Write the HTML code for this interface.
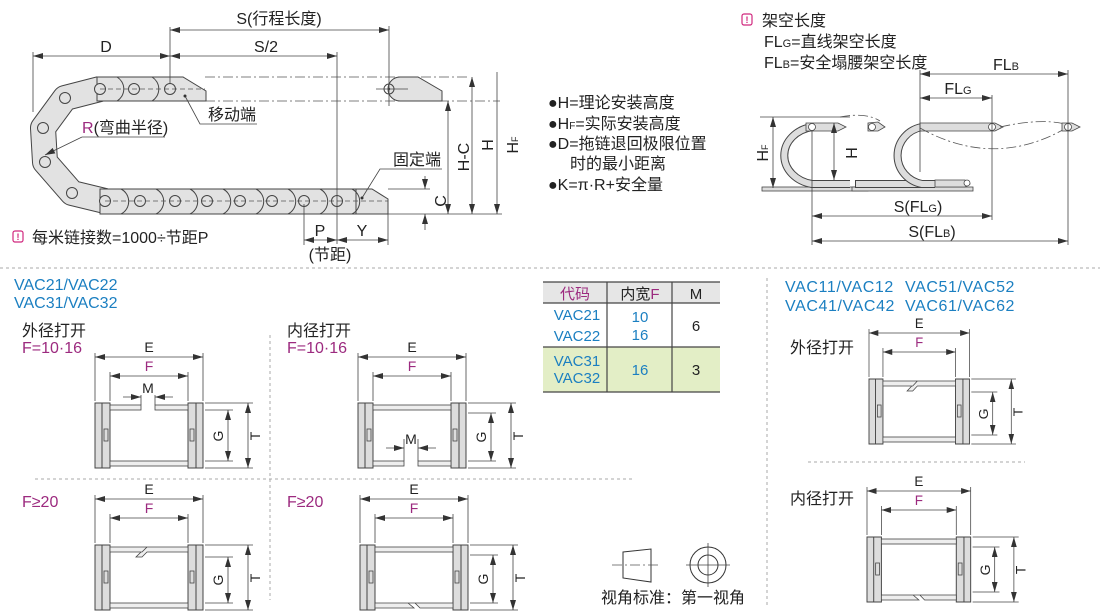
<!DOCTYPE html>
<html><head><meta charset="utf-8">
<style>
html,body{margin:0;padding:0;background:#fff;}
svg{display:block;font-family:"Liberation Sans","Noto Sans CJK SC",sans-serif;}
.t{font-size:16px;fill:#222;}
.b{font-size:16px;fill:#1b7fc1;}
.m{fill:#9c2a7f;}
.ln{stroke:#444;stroke-width:1;fill:none;}
.dim{stroke:#444;stroke-width:0.8;fill:none;}
.dd{stroke:#555;stroke-width:0.8;fill:none;stroke-dasharray:10 3 2 3;}
.sep{stroke:#aaa;stroke-width:1;fill:none;stroke-dasharray:3 3;}
</style></head><body>
<svg width="1110" height="613" viewBox="0 0 1110 613" xmlns="http://www.w3.org/2000/svg">
<defs>
<marker id="a" viewBox="0 0 10 6" refX="10" refY="3" markerWidth="10" markerHeight="6" orient="auto-start-reverse" markerUnits="userSpaceOnUse"><path d="M0,0 L10,3 L0,6 z" fill="#333"/></marker>
<g id="frame">
 <rect x="0" y="0" width="15" height="65" fill="#ddd" stroke="#444"/>
 <line x1="7" y1="0" x2="7" y2="65" stroke="#444"/>
 <rect x="93" y="0" width="15" height="65" fill="#ddd" stroke="#444"/>
 <line x1="101" y1="0" x2="101" y2="65" stroke="#444"/>
 <rect x="9" y="26" width="4" height="12" fill="#ddd" stroke="#444" stroke-width="0.8"/>
 <rect x="95" y="26" width="4" height="12" fill="#ddd" stroke="#444" stroke-width="0.8"/>
 <line x1="0" y1="-50" x2="0" y2="-2" class="dim"/><line x1="108" y1="-50" x2="108" y2="-2" class="dim"/>
 <line x1="15" y1="-31" x2="15" y2="-2" class="dim"/><line x1="93" y1="-31" x2="93" y2="-2" class="dim"/>
 <line x1="0" y1="-46" x2="108" y2="-46" class="dim" marker-start="url(#a)" marker-end="url(#a)"/>
 <line x1="15" y1="-27" x2="93" y2="-27" class="dim" marker-start="url(#a)" marker-end="url(#a)"/>
 <line x1="110" y1="0" x2="158" y2="0" class="dim"/><line x1="110" y1="65" x2="158" y2="65" class="dim"/>
 <line x1="153" y1="0" x2="153" y2="65" class="dim" marker-start="url(#a)" marker-end="url(#a)"/>
 <text x="54" y="-51" text-anchor="middle" class="t" style="font-size:14px">E</text>
 <text x="54" y="-32" text-anchor="middle" class="t m" style="font-size:14px">F</text>
 <text transform="translate(165,33) rotate(-90)" text-anchor="middle" class="t" style="font-size:14px">T</text>
</g>
<g id="barT"><rect x="15" y="2" width="78" height="5" fill="#eee" stroke="#444" stroke-width="0.8"/></g>
<g id="barB"><rect x="15" y="58" width="78" height="5" fill="#eee" stroke="#444" stroke-width="0.8"/></g>
</defs>

<!-- ===== Top-left chain diagram ===== -->
<line x1="205" y1="77" x2="470" y2="77" class="dd"/>
<line x1="205" y1="101" x2="500" y2="101" class="dd"/>
<path d="M100 89 L65 98 L43 128 L45 162 L72 193 L105 201" fill="none" stroke="#444" stroke-width="26" stroke-linejoin="round"/>
<path d="M100 89 L65 98 L43 128 L45 162 L72 193 L105 201" fill="none" stroke="#e2e2e2" stroke-width="24" stroke-linejoin="round"/>
<rect x="97" y="77" width="86" height="24" fill="#e2e2e2" stroke="#444"/>
<path d="M165 77 L183 77 L206 91 L206 101 L165 101" fill="#e2e2e2" stroke="#444"/>
<rect x="100" y="189" width="258" height="25" fill="#e2e2e2" stroke="#444"/>
<path d="M356 189 L372 189 L388 199 L388 214 L356 214 z" fill="#e2e2e2" stroke="#444"/>
<g class="ln">
<path d="M117 77 A14 14 0 0 1 117 101"/><path d="M152 77 A14 14 0 0 1 152 101"/>
<path d="M121 189 A14 14 0 0 1 121 214"/><path d="M156 189 A14 14 0 0 1 156 214"/><path d="M190 189 A14 14 0 0 1 190 214"/><path d="M223 189 A14 14 0 0 1 223 214"/><path d="M256 189 A14 14 0 0 1 256 214"/><path d="M288 189 A14 14 0 0 1 288 214"/><path d="M320 189 A14 14 0 0 1 320 214"/><path d="M352 189 A14 14 0 0 1 352 214"/>
</g>
<g fill="#e2e2e2" stroke="#444">
<circle cx="100" cy="89" r="5.5"/><circle cx="134" cy="89" r="5.5"/><circle cx="170" cy="89" r="5.5"/>
<circle cx="65" cy="98" r="5.5"/><circle cx="43" cy="128" r="5.5"/><circle cx="45" cy="162" r="5.5"/><circle cx="72" cy="193" r="5.5"/>
<circle cx="105" cy="201" r="5.5"/><circle cx="140" cy="201" r="5.5"/><circle cx="175" cy="201" r="5.5"/><circle cx="207" cy="201" r="5.5"/><circle cx="240" cy="201" r="5.5"/><circle cx="272" cy="201" r="5.5"/><circle cx="304" cy="201" r="5.5"/><circle cx="337" cy="201" r="5.5"/>
</g>
<line x1="100" y1="89" x2="205" y2="89" stroke="#555" stroke-width="0.8" stroke-dasharray="5 3"/>
<line x1="105" y1="201" x2="388" y2="201" stroke="#555" stroke-width="0.8" stroke-dasharray="5 3"/>
<!-- ghost end -->
<path d="M400 77 L418 77 L442 91 L442 101 L400 101 A12 12 0 0 1 400 77 z" fill="#e2e2e2" stroke="#444"/>
<circle cx="389" cy="89" r="5" fill="none" stroke="#444"/><circle cx="389" cy="89" r="1.2" fill="#444"/>
<line x1="376" y1="89" x2="408" y2="89" class="dim"/>
<!-- dims -->
<line x1="170" y1="27" x2="170" y2="84" class="dim"/>
<line x1="389" y1="26" x2="389" y2="106" class="dim"/>
<line x1="33" y1="52" x2="33" y2="112" class="dim"/>
<line x1="337" y1="52" x2="337" y2="244" class="dim"/>
<line x1="170" y1="30" x2="389" y2="30" class="dim" marker-start="url(#a)" marker-end="url(#a)"/>
<line x1="33" y1="56" x2="170" y2="56" class="dim" marker-start="url(#a)" marker-end="url(#a)"/>
<line x1="170" y1="56" x2="337" y2="56" class="dim" marker-start="url(#a)" marker-end="url(#a)"/>
<text x="279" y="24" text-anchor="middle" class="t">S(行程长度)</text>
<text x="106" y="52" text-anchor="middle" class="t">D</text>
<text x="266" y="52" text-anchor="middle" class="t">S/2</text>
<line x1="388" y1="214" x2="502" y2="214" class="dim"/>
<line x1="388" y1="189" x2="430" y2="189" class="dim"/>
<line x1="448" y1="101" x2="448" y2="214" class="dim" marker-start="url(#a)" marker-end="url(#a)"/>
<line x1="472" y1="77" x2="472" y2="214" class="dim" marker-start="url(#a)" marker-end="url(#a)"/>
<line x1="497" y1="72" x2="497" y2="214" class="dim" marker-end="url(#a)"/>
<line x1="425" y1="176" x2="425" y2="189" class="dim" marker-end="url(#a)"/>
<line x1="425" y1="230" x2="425" y2="214" class="dim" marker-end="url(#a)"/>
<text transform="translate(469,157) rotate(-90)" text-anchor="middle" class="t">H-C</text>
<text transform="translate(493,145) rotate(-90)" text-anchor="middle" class="t">H</text>
<text transform="translate(518,145) rotate(-90)" text-anchor="middle" class="t">H<tspan style="font-size:9px">F</tspan></text>
<text transform="translate(446,201) rotate(-90)" text-anchor="middle" class="t">C</text>
<line x1="304" y1="204" x2="304" y2="245" class="dim"/>
<line x1="388" y1="214" x2="388" y2="245" class="dim"/>
<line x1="304" y1="240" x2="337" y2="240" class="dim" marker-start="url(#a)" marker-end="url(#a)"/>
<line x1="337" y1="240" x2="388" y2="240" class="dim" marker-start="url(#a)" marker-end="url(#a)"/>
<text x="320" y="236" text-anchor="middle" class="t">P</text>
<text x="362" y="236" text-anchor="middle" class="t">Y</text>
<text x="330" y="260" text-anchor="middle" class="t">(节距)</text>
<!-- labels -->
<text x="208" y="120" class="t">移动端</text>
<polyline points="185,96 200,124 257,124" class="dim"/>
<circle cx="185" cy="96" r="1.5" fill="#333"/>
<text x="82" y="133" class="t"><tspan class="m">R</tspan>(弯曲半径)</text>
<line x1="82" y1="137" x2="165" y2="137" class="dim"/>
<line x1="82" y1="137" x2="45" y2="155" class="dim" marker-end="url(#a)"/>
<text x="393" y="165" class="t">固定端</text>
<polyline points="442,169 380,169 362,198" class="dim"/>
<circle cx="362" cy="198" r="1.5" fill="#333"/>
<rect x="13" y="231" width="10" height="11" rx="2" fill="none" stroke="#d0287e" stroke-width="1.2"/>
<text x="18" y="240" text-anchor="middle" style="font-size:9px;font-weight:bold;fill:#d0287e">!</text>
<text x="32" y="243" class="t">每米链接数=1000÷节距P</text>

<!-- bullets -->
<g class="t">
<text x="548" y="108">●H=理论安装高度</text>
<text x="548" y="129">●H<tspan style="font-size:10px">F</tspan>=实际安装高度</text>
<text x="548" y="149">●D=拖链退回极限位置</text>
<text x="570" y="169">时的最小距离</text>
<text x="548" y="190">●K=π·R+安全量</text>
</g>

<!-- top right -->
<rect x="742" y="14" width="10" height="11" rx="2" fill="none" stroke="#d0287e" stroke-width="1.2"/>
<text x="747" y="23" text-anchor="middle" style="font-size:9px;font-weight:bold;fill:#d0287e">!</text>
<g class="t">
<text x="762" y="26">架空长度</text>
<text x="764" y="47">FL<tspan style="font-size:11px">G</tspan>=直线架空长度</text>
<text x="764" y="68">FL<tspan style="font-size:11px">B</tspan>=安全塌腰架空长度</text>
</g>
<rect x="762" y="187" width="106" height="4" fill="#ddd" stroke="#444" stroke-width="0.8"/>
<rect x="852" y="187" width="121" height="4" fill="#ddd" stroke="#444" stroke-width="0.8"/>
<!-- left U -->
<path d="M812 127 A34 29 0 0 0 812 184 L850 184" fill="none" stroke="#444" stroke-width="8"/>
<path d="M812 127 A34 29 0 0 0 812 184 L850 184" fill="none" stroke="#ddd" stroke-width="6"/>
<path d="M806 123 L838 123 L846 127 L838 131 L806 131 z" fill="#ddd" stroke="#444" stroke-width="0.8"/>
<circle cx="812" cy="127" r="3.5" fill="#fff" stroke="#444" stroke-width="0.8"/>
<path d="M840 117 Q866 112 880 121" class="dd"/>
<path d="M868 123 L878 122 L885 127 L878 131 L868 131 z" fill="#ddd" stroke="#444" stroke-width="0.8"/>
<circle cx="872" cy="127" r="3.5" fill="#fff" stroke="#444" stroke-width="0.8"/>
<!-- lower run + right U -->
<path d="M855 184 L935 184" stroke="#444" stroke-width="8"/><path d="M856 184 L935 184" stroke="#ddd" stroke-width="6"/>
<path d="M922 127 A30 29 0 0 0 922 184 L935 184" fill="none" stroke="#444" stroke-width="8"/>
<path d="M922 127 A30 29 0 0 0 922 184 L935 184" fill="none" stroke="#ddd" stroke-width="6"/>
<path d="M935 180 L965 180 L970 184 L965 187 L935 187 z" fill="#ddd" stroke="#444" stroke-width="0.8"/>
<circle cx="967" cy="183" r="3" fill="#fff" stroke="#444" stroke-width="0.8"/>
<path d="M920 123 L995 123 L1003 127 L995 131 L920 131 z" fill="#ddd" stroke="#444" stroke-width="0.8"/>
<circle cx="992" cy="127" r="3.5" fill="#fff" stroke="#444" stroke-width="0.8"/>
<path d="M920 128 Q995 170 1068 127" class="dd"/>
<path d="M1000 127 Q1040 118 1065 124" class="dd"/>
<path d="M1062 123 L1072 123 L1080 127 L1072 131 L1062 131 z" fill="#ddd" stroke="#444" stroke-width="0.8"/>
<circle cx="1068" cy="127" r="3.5" fill="#fff" stroke="#444" stroke-width="0.8"/>
<line x1="760" y1="117" x2="850" y2="117" class="dim"/>
<line x1="773" y1="117" x2="773" y2="188" class="dim" marker-start="url(#a)" marker-end="url(#a)"/>
<line x1="834" y1="123" x2="834" y2="180" class="dim" marker-start="url(#a)" marker-end="url(#a)"/>
<text transform="translate(768,153) rotate(-90)" text-anchor="middle" class="t">H<tspan style="font-size:9px">F</tspan></text>
<text transform="translate(857,153) rotate(-90)" text-anchor="middle" class="t">H</text>
<line x1="920" y1="70" x2="920" y2="172" class="dim"/>
<line x1="992" y1="95" x2="992" y2="220" class="dim"/>
<line x1="1068" y1="70" x2="1068" y2="245" class="dim"/>
<line x1="812" y1="131" x2="812" y2="245" class="dim"/>
<line x1="920" y1="74" x2="1068" y2="74" class="dim" marker-start="url(#a)" marker-end="url(#a)"/>
<line x1="920" y1="98" x2="992" y2="98" class="dim" marker-start="url(#a)" marker-end="url(#a)"/>
<line x1="812" y1="216" x2="992" y2="216" class="dim" marker-start="url(#a)" marker-end="url(#a)"/>
<line x1="812" y1="241" x2="1068" y2="241" class="dim" marker-start="url(#a)" marker-end="url(#a)"/>
<text x="1006" y="70" text-anchor="middle" class="t">FL<tspan style="font-size:11px">B</tspan></text>
<text x="958" y="94" text-anchor="middle" class="t">FL<tspan style="font-size:11px">G</tspan></text>
<text x="918" y="212" text-anchor="middle" class="t">S(FL<tspan style="font-size:11px">G</tspan>)</text>
<text x="932" y="237" text-anchor="middle" class="t">S(FL<tspan style="font-size:11px">B</tspan>)</text>

<!-- separators -->
<line x1="0" y1="268" x2="1100" y2="268" class="sep"/>
<line x1="270" y1="335" x2="270" y2="600" class="sep"/>
<line x1="35" y1="479" x2="635" y2="479" class="sep"/>
<line x1="767" y1="278" x2="767" y2="605" class="sep"/>
<line x1="808" y1="462" x2="1025" y2="462" class="sep"/>

<!-- left labels -->
<text x="14" y="290" class="b">VAC21/VAC22</text>
<text x="14" y="308" class="b">VAC31/VAC32</text>
<text x="22" y="336" class="t">外径打开</text>
<text x="22" y="353" class="t m">F=10·16</text>
<text x="287" y="336" class="t">内径打开</text>
<text x="287" y="353" class="t m">F=10·16</text>
<text x="22" y="507" class="t m">F≥20</text>
<text x="287" y="507" class="t m">F≥20</text>

<!-- section 1 -->
<g transform="translate(95,403)">
<use href="#frame"/><use href="#barB"/>
<rect x="15" y="2" width="31" height="5" fill="#eee" stroke="#444" stroke-width="0.8"/>
<rect x="60" y="2" width="33" height="5" fill="#eee" stroke="#444" stroke-width="0.8"/>
<line x1="46" y1="-8" x2="46" y2="2" class="dim"/><line x1="60" y1="-8" x2="60" y2="2" class="dim"/>
<line x1="28" y1="-6" x2="46" y2="-6" class="dim" marker-end="url(#a)"/><line x1="78" y1="-6" x2="60" y2="-6" class="dim" marker-end="url(#a)"/>
<text x="53" y="-10" text-anchor="middle" class="t" style="font-size:14px">M</text>
<line x1="110" y1="7" x2="138" y2="7" class="dim"/><line x1="110" y1="58" x2="138" y2="58" class="dim"/>
<line x1="133" y1="7" x2="133" y2="58" class="dim" marker-start="url(#a)" marker-end="url(#a)"/>
<text transform="translate(128,33) rotate(-90)" text-anchor="middle" class="t" style="font-size:14px">G</text>
</g>
<!-- section 2 -->
<g transform="translate(358,403)">
<use href="#frame"/><use href="#barT"/>
<rect x="15" y="58" width="31" height="5" fill="#eee" stroke="#444" stroke-width="0.8"/>
<rect x="60" y="58" width="33" height="5" fill="#eee" stroke="#444" stroke-width="0.8"/>
<line x1="46" y1="36" x2="46" y2="58" class="dim"/><line x1="60" y1="36" x2="60" y2="58" class="dim"/>
<line x1="28" y1="45" x2="46" y2="45" class="dim" marker-end="url(#a)"/><line x1="78" y1="45" x2="60" y2="45" class="dim" marker-end="url(#a)"/>
<text x="53" y="41" text-anchor="middle" class="t" style="font-size:14px">M</text>
<line x1="110" y1="10" x2="138" y2="10" class="dim"/><line x1="110" y1="58" x2="138" y2="58" class="dim"/>
<line x1="133" y1="10" x2="133" y2="58" class="dim" marker-start="url(#a)" marker-end="url(#a)"/>
<text transform="translate(128,34) rotate(-90)" text-anchor="middle" class="t" style="font-size:14px">G</text>
</g>
<!-- section 3 -->
<g transform="translate(95,545)">
<use href="#frame"/><use href="#barB"/>
<path d="M15 2 L52 2 L47 7 L15 7 z M52 2 L93 2 L93 7 L52 7 L47 12 L41 12 L46 7" fill="#eee" stroke="#444" stroke-width="0.8"/>
<line x1="110" y1="12" x2="138" y2="12" class="dim"/><line x1="110" y1="58" x2="138" y2="58" class="dim"/>
<line x1="133" y1="12" x2="133" y2="58" class="dim" marker-start="url(#a)" marker-end="url(#a)"/>
<text transform="translate(128,35) rotate(-90)" text-anchor="middle" class="t" style="font-size:14px">G</text>
</g>
<!-- section 4 -->
<g transform="translate(360,545)">
<use href="#frame"/><use href="#barT"/>
<path d="M15 58 L93 58 L93 63 L60 63 L55 58 M15 58 L48 58 L54 63 L15 63 z" fill="#eee" stroke="#444" stroke-width="0.8"/>
<line x1="110" y1="10" x2="138" y2="10" class="dim"/><line x1="110" y1="58" x2="138" y2="58" class="dim"/>
<line x1="133" y1="10" x2="133" y2="58" class="dim" marker-start="url(#a)" marker-end="url(#a)"/>
<text transform="translate(128,34) rotate(-90)" text-anchor="middle" class="t" style="font-size:14px">G</text>
</g>

<!-- table -->
<rect x="543" y="282" width="177" height="21" fill="#e6e6e6"/>
<rect x="543" y="347" width="177" height="45" fill="#e3eec6"/>
<g stroke="#444" stroke-width="1.2">
<line x1="543" y1="282" x2="720" y2="282"/><line x1="543" y1="303" x2="720" y2="303"/>
<line x1="543" y1="347" x2="720" y2="347"/><line x1="543" y1="392" x2="720" y2="392"/>
<line x1="607" y1="282" x2="607" y2="392"/><line x1="672" y1="282" x2="672" y2="392"/>
</g>
<g style="font-size:15px">
<text x="575" y="299" text-anchor="middle" class="m" style="font-size:15px">代码</text>
<text x="640" y="299" text-anchor="middle" fill="#222" style="font-size:15px">内宽<tspan class="m">F</tspan></text>
<text x="696" y="299" text-anchor="middle" fill="#222" style="font-size:15px">M</text>
<text x="577" y="320" text-anchor="middle" fill="#1b7fc1" style="font-size:15px">VAC21</text>
<text x="577" y="341" text-anchor="middle" fill="#1b7fc1" style="font-size:15px">VAC22</text>
<text x="577" y="366" text-anchor="middle" fill="#1b7fc1" style="font-size:15px">VAC31</text>
<text x="577" y="383" text-anchor="middle" fill="#1b7fc1" style="font-size:15px">VAC32</text>
<text x="640" y="322" text-anchor="middle" fill="#1b7fc1" style="font-size:15px">10</text>
<text x="640" y="340" text-anchor="middle" fill="#1b7fc1" style="font-size:15px">16</text>
<text x="640" y="375" text-anchor="middle" fill="#1b7fc1" style="font-size:15px">16</text>
<text x="696" y="331" text-anchor="middle" fill="#222" style="font-size:15px">6</text>
<text x="696" y="375" text-anchor="middle" fill="#222" style="font-size:15px">3</text>
</g>

<!-- view symbol -->
<path d="M623 552 L651 549 L651 582 L623 578 z" fill="none" stroke="#333"/>
<line x1="612" y1="565" x2="660" y2="565" class="dd"/>
<circle cx="708" cy="565" r="18" fill="none" stroke="#333"/>
<circle cx="708" cy="565" r="10" fill="none" stroke="#333"/>
<line x1="686" y1="565" x2="730" y2="565" class="dim"/><line x1="708" y1="543" x2="708" y2="587" class="dim"/>
<text x="601" y="603" class="t">视角标准：第一视角</text>

<!-- right section -->
<text x="785" y="292" class="b" style="letter-spacing:0.6px">VAC11/VAC12</text>
<text x="905" y="292" class="b" style="letter-spacing:0.6px">VAC51/VAC52</text>
<text x="785" y="311" class="b" style="letter-spacing:0.6px">VAC41/VAC42</text>
<text x="905" y="311" class="b" style="letter-spacing:0.6px">VAC61/VAC62</text>
<text x="790" y="353" class="t">外径打开</text>
<text x="790" y="504" class="t">内径打开</text>
<g transform="translate(869,379) scale(0.93,1)">
<use href="#frame"/><use href="#barB"/>
<path d="M15 2 L52 2 L47 7 L15 7 z M52 2 L93 2 L93 7 L52 7 L47 12 L41 12 L46 7" fill="#eee" stroke="#444" stroke-width="0.8"/>
<line x1="110" y1="13" x2="138" y2="13" class="dim"/><line x1="110" y1="56" x2="138" y2="56" class="dim"/>
<line x1="133" y1="13" x2="133" y2="56" class="dim" marker-start="url(#a)" marker-end="url(#a)"/>
<text transform="translate(128,35) rotate(-90)" text-anchor="middle" class="t" style="font-size:14px">G</text>
</g>
<g transform="translate(867,537) scale(0.96,1)">
<use href="#frame"/><use href="#barT"/>
<path d="M15 58 L93 58 L93 63 L60 63 L55 58 M15 58 L48 58 L54 63 L15 63 z" fill="#eee" stroke="#444" stroke-width="0.8"/>
<line x1="110" y1="10" x2="138" y2="10" class="dim"/><line x1="110" y1="55" x2="138" y2="55" class="dim"/>
<line x1="133" y1="10" x2="133" y2="55" class="dim" marker-start="url(#a)" marker-end="url(#a)"/>
<text transform="translate(128,33) rotate(-90)" text-anchor="middle" class="t" style="font-size:14px">G</text>
</g>
</svg>
</body></html>
